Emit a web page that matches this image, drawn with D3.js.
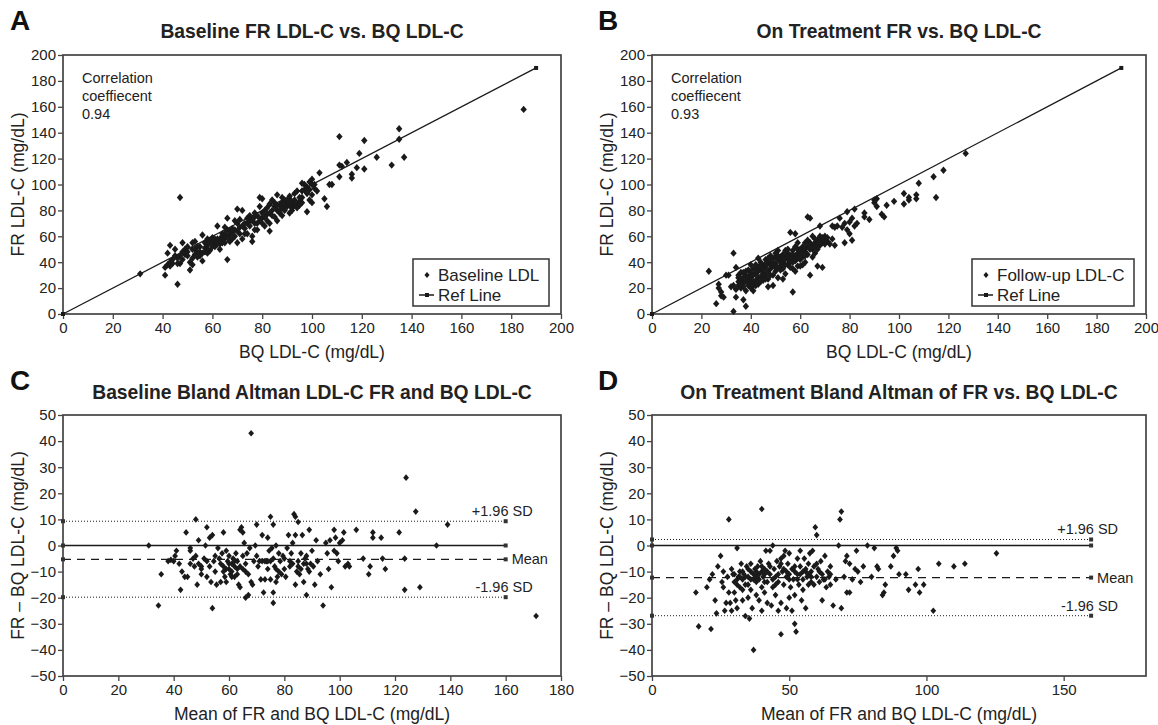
<!DOCTYPE html>
<html>
<head>
<meta charset="utf-8">
<script src="https://cdn.jsdelivr.net/npm/d3@7"></script>
<style>
body{margin:0;background:#fff;}
text{font-family:"Liberation Sans",Arial,sans-serif;}
</style>
</head>
<body>
<script>
const W = 1158, H = 725;

// panel A: baseline FR vs BQ LDL-C  [BQ, FR]
const baselineLDL = [[31,31],[47,90],[46,23],[41,30],[41,36],[42,38],[43,40],[42,47],[43,53],[44,39],[45,45],[47,45],[48,48],[48,55],[47,39],[46,39],[49,50],[50,52],[50,45],[51,34],[51,40],[52,43],[52,55],[53,56],[53,50],[54,48],[55,45],[55,52],[56,41],[56,61],[57,48],[57,55],[58,47],[58,53],[59,49],[60,57],[60,59],[61,55],[61,52],[62,68],[62,56],[63,54],[63,58],[64,60],[64,57],[65,55],[65,62],[66,42],[66,74],[66,65],[67,61],[67,57],[68,63],[69,65],[70,55],[70,81],[70,70],[71,67],[72,80],[72,58],[73,66],[74,70],[74,62],[75,72],[75,68],[76,56],[76,60],[76,74],[77,75],[77,70],[78,76],[78,65],[79,90],[79,72],[80,74],[80,89],[81,68],[81,80],[82,72],[82,77],[83,64],[83,85],[84,88],[84,80],[85,83],[85,75],[86,92],[86,80],[87,84],[87,78],[88,86],[88,82],[89,88],[89,80],[90,85],[90,83],[91,89],[91,78],[92,86],[92,82],[93,93],[93,84],[94,85],[95,87],[95,84],[96,90],[96,101],[97,96],[98,79],[98,93],[99,102],[99,88],[100,100],[100,92],[100,86],[101,97],[102,95],[103,109],[105,89],[106,83],[107,100],[108,100],[111,137],[111,106],[111,115],[112,114],[114,117],[116,108],[116,105],[118,113],[119,124],[121,134],[121,112],[126,121],[132,115],[135,143],[135,135],[137,121],[185,158],
  [58,58],[59,56],[60,54],[60,52],[61,58],[62,54],[62,58],[63,56],[64,55],[64,62],[65,58],[66,60],[67,64],[68,58],[68,66],[69,60],[70,64],[71,62],[72,68],[73,70],[74,74],[75,76],[76,72],[77,78],[78,70],[79,74],[80,70],[80,78],[81,75],[82,82],[83,78],[84,76],[85,86],[86,84],[87,80],[88,90],[89,84],[90,87],[91,84],[92,80],[93,88],[94,82],[95,90],[96,86],[97,100],[98,98],[99,96],[100,104],[101,100],[45,50],[46,43],[48,42],[49,46],[50,48],[52,50],[53,46],[54,52],[55,48],[56,47],[57,51],[58,50],[59,57],[52,38],[44,42],[43,37],[54,44],[63,50],[65,67],[67,56],[69,72],[71,73],[73,62],[77,65],[79,83],[83,70],[86,72],[88,76],[91,91],[94,95],[96,95]];

// panel B: on-treatment FR vs BQ LDL-C  [BQ, FR]
const followupLDL = [[23,33],[26,8],[27,23],[27,20],[28,17],[28,14],[29,13],[30,30],[31,30],[32,21],[33,2],[33,47],[33,22],[34,19],[34,36],[34,13],[35,25],[35,22],[36,27],[36,20],[36,26],[37,11],[37,28],[37,24],[38,6],[38,18],[38,25],[38,30],[39,22],[39,27],[39,34],[40,20],[40,28],[40,32],[41,18],[41,25],[41,30],[41,35],[42,26],[42,31],[42,38],[43,23],[43,28],[43,33],[43,43],[44,29],[44,35],[44,40],[45,26],[45,32],[45,37],[46,30],[46,36],[46,42],[47,21],[47,27],[47,33],[47,39],[48,35],[48,40],[48,45],[49,22],[49,30],[49,37],[49,43],[50,33],[50,39],[50,47],[51,28],[51,36],[51,42],[51,49],[52,37],[52,44],[53,27],[53,40],[53,46],[54,31],[54,43],[55,38],[55,47],[55,50],[56,40],[56,45],[56,63],[57,17],[57,35],[57,42],[57,49],[58,33],[58,45],[58,52],[58,62],[59,37],[59,47],[59,55],[60,42],[60,50],[61,44],[61,52],[62,40],[62,48],[62,55],[63,46],[63,57],[63,75],[64,30],[64,50],[64,74],[65,44],[65,53],[65,60],[66,47],[66,55],[67,37],[67,50],[67,57],[68,53],[68,60],[68,68],[69,36],[69,55],[70,58],[70,60],[71,56],[72,54],[73,68],[74,53],[74,67],[75,68],[76,74],[77,67],[78,55],[78,70],[79,65],[79,79],[80,71],[80,62],[81,57],[81,74],[82,68],[82,81],[83,70],[86,78],[86,75],[88,73],[90,88],[90,86],[91,83],[91,89],[93,77],[94,75],[95,84],[98,87],[102,93],[102,85],[104,90],[104,88],[107,92],[107,89],[108,101],[114,106],[115,90],[118,111],[127,124],
  [36,23],[37,21],[39,25],[40,24],[42,22],[44,25],[45,28],[46,27],[48,30],[50,36],[52,34],[53,35],[54,38],[55,42],[56,36],[57,40],[58,41],[59,43],[60,45],[61,48],[62,45],[63,52],[64,55],[65,50],[66,52],[67,54],[68,57],[69,59],[70,54],[54,49],[50,44],[47,43],[44,38],[41,22],[35,28],[36,32],[38,33],[40,38],[53,42],[61,38],[60,37],
  [35,30],[37,32],[39,29],[40,30],[42,34],[43,36],[45,34],[46,39],[48,38],[49,40],[51,45],[52,40],[55,45],[57,46],[59,50],[60,48],[62,50],[64,52],[66,58],[68,55],[71,59],[73,58]];

// panel C: baseline Bland-Altman  [mean, difference]
const baselineBA = [[31,0],[34.5,-23],[35.5,-11],[38,-6],[39,-5.5],[40,-6],[40.5,-4],[41,-2],[42,-7],[42.5,-17],[43,-10],[44,-12],[44.5,5],[45,-12],[46,-2],[46,-1],[47,-5],[47.5,-8],[48,10],[48.5,-15],[49,2],[49,-7],[50,-9],[50,-11],[51,-5],[51.5,0],[52,7],[52,-12],[53,3],[53,-8],[53.5,-14],[54,-24],[54,4],[54.5,-6],[55,-10],[55.5,-15],[56,-1],[56.5,-5],[57,-14],[57.5,-3],[58,5],[58,-8],[58.5,-12],[59,-14],[59,-2],[59.5,-6],[60,-9],[60,-4],[60.5,-11],[61,-7],[61,-10],[61.5,-5],[62,-8],[62,-12],[62.5,-3],[63,-9],[63,-6],[63.5,-15],[64,6],[64,-16],[64.5,7],[65,-4],[65,5],[65.5,1],[66,-20],[66,-7],[66.5,-3],[67,-19],[67,-11],[67.5,-1],[68,-14],[68,43],[68.5,-15],[69,-6],[69.5,0],[70,8],[70,-4],[70.5,-8],[71,-6],[71.5,-13],[72,4],[72,-6],[72.5,-18],[73,-13],[73.5,-6],[74,3],[74,-9],[74.5,-2],[75,-13],[75,11],[75.5,-1],[76,8],[76,-18],[76,-22],[76.5,-8],[77,-14],[77,0],[77.5,-12],[78,-10],[78,-3],[78.5,-6],[79,-11],[79.5,-4],[80,-5],[80.5,-12],[81,-1],[81.5,4],[82,-8],[82.5,-3],[83,1],[83,-7],[83.5,12],[84,11],[84,4],[84,-15],[84.5,-10],[85,9],[85,-6],[85.5,-11],[86,-3],[86.5,4],[87,-7],[87,-14],[87.5,-5],[88,-19],[88,-4],[88.5,-9],[89,6],[89,-10],[89.5,-7],[90,-2],[90.5,-8],[91,-15],[91.5,2],[92,-6],[93,-11],[94,-23],[95,1],[95.5,-3],[96,-9],[96.5,2],[97,-16],[98,6],[98,-2],[98.5,3],[99,-3],[99.5,-6],[100,1],[101,2],[101.5,5],[102,-8],[103,-7],[103.5,-8],[106,6],[108.5,-5],[110.5,-11],[111,-8],[112,5],[112,3],[115,3],[115.5,-5],[116.5,-9],[121.5,5],[123.5,-5],[123.5,-17],[124,26],[127.5,13],[129,-16],[135,0],[139,8],[171,-27],
  [57,-7],[58,-10],[59,-9],[60,-7],[61,-12],[62,-6],[63,-11],[64,-8],[65,-9],[66,-10],[73,-6],[74,-6],[75,-6],[76,-5],[77,-9],[80,-9],[82,-6],[85,-8],[86,-9],[88,-7],[52,-6],[50,-8],[48,-4],[55,-4],[46,-7]];

// panel D: on-treatment Bland-Altman  [mean, difference]
const followupBA = [[16,-18],[17,-31],[20,-16],[21,-13],[21.5,-32],[22,-11],[23,-21],[23.5,-26],[24,-8],[25,-4],[25.5,-14],[26,-16],[26,-10],[26.5,-25],[27,-22],[27.5,-12],[28,10],[28,-18],[28.5,-22],[29,-25],[29.5,-11],[30,-14],[30,-18],[30.5,-21],[31,-24],[31,-1],[31.5,-12],[32,-10],[32,-16],[32.5,-7],[33,-13],[33,-21],[33.5,-11],[34,-15],[34,-27],[34.5,-8],[35,-20],[35,-12],[35.5,-28],[36,-10],[36,-17],[36.5,-24],[37,-13],[37,-40],[37.5,-9],[38,-19],[38,-14],[38.5,-8],[39,-21],[39,-11],[39.5,-6],[40,-25],[40,-16],[40,14],[40.5,-12],[41,-9],[41,-18],[41.5,-2],[42,-14],[42,-22],[42.5,-7],[43,-11],[43,-2],[43.5,-23],[44,0],[44,-16],[44.5,-9],[45,-12],[45,-19],[45.5,-6],[46,-25],[46,-14],[46.5,-8],[47,-34],[47,-22],[47.5,-10],[48,-4],[48,-15],[48.5,-2],[49,-24],[49,-12],[49.5,-7],[50,-20],[50,-3],[50.5,-16],[51,-9],[51,-25],[51.5,-13],[52,-19],[52,-30],[52.5,-33],[53,-11],[53,-5],[53.5,-15],[54,-2],[54,-8],[54.5,-21],[55,-13],[55,-17],[55.5,-5],[56,-9],[56,-24],[56.5,-12],[57,-7],[57,-15],[57.5,-3],[58,-10],[58,-14],[58.5,-2],[59,-8],[59,-15],[59.5,7],[60,4],[60,-12],[60.5,-9],[61,-14],[61.5,-6],[62,-11],[62,-21],[62.5,-13],[63,-4],[63.5,-16],[64,-10],[64.5,-12],[65,-15],[65,-11],[66,-23],[67,-13],[68,0],[68.5,10],[69,13],[69,-24],[70,-12],[70.5,-6],[71,-18],[71,-4],[72,-7],[72,-18],[73,-13],[74,-9],[74.5,-2],[75,-10],[76,-14],[77,-8],[78.5,0],[80,-12],[81,-1],[82,-8],[82.5,-9],[84,-19],[84.5,-18],[85,-15],[87,-8],[88,-4],[89,-1],[89.5,-2],[90,-11],[92.5,-11],[93.5,-17],[96,-15],[97,-9],[97.5,-18],[99,-15],[102.5,-25],[104.5,-7],[110,-8],[114,-7],[125.5,-3],
  [30,-11],[31,-13],[32,-12],[33,-10],[34,-12],[35,-9],[36,-13],[37,-11],[38,-10],[39,-13],[40,-8],[41,-11],[42,-10],[44,-13],[46,-11],[47,-7],[48,-9],[50,-11],[52,-10],[54,-11],[56,-10],[58,-12],
  [29,-9],[31,-15],[33,-17],[35,-15],[36,-7],[38,-12],[40,-10],[41,-14],[43,-8],[45,-15],[47,-5],[49,-10],[50,-13],[52,-8],[53,-13],[55,-10],[57,-11],[60,-7],[61,-10],[63,-13],[65,-8]];

// reference line (identity) end points for A and B
const refLine = [[0,0],[190,190]];
// Bland-Altman limits: [upper +1.96 SD, mean, lower -1.96 SD]
const baselineLimits = [9.3, -5.3, -19.8];
const followupLimits = [2.3, -12.3, -26.9];
const limitEnd = 160;

const ticks200 = [0,20,40,60,80,100,120,140,160,180,200];
const ticks180 = [0,20,40,60,80,100,120,140,160,180];
const ticks150 = [0,50,100,150];
const ticksDiff = [50,40,30,20,10,0,-10,-20,-30,-40,-50];

const ink = "#1a1a1a";
const diamond = "M0,-3.7L3.2,0L0,3.7L-3.2,0Z";

const svg = d3.select("body").append("svg")
  .attr("width", W).attr("height", H);

function frame(g, box, x, y, xt, yt) {
  g.append("g")
    .attr("transform", `translate(0,${box.b})`)
    .call(d3.axisBottom(x).tickValues(xt).tickSize(5).tickPadding(3))
    .call(a => a.select(".domain").remove());
  g.append("g")
    .attr("transform", `translate(${box.l},0)`)
    .call(d3.axisLeft(y).tickValues(yt).tickSize(5).tickPadding(2))
    .call(a => a.select(".domain").remove());
  g.selectAll(".tick text").attr("font-size", 15).attr("fill", "#222")
    .attr("font-family", "'Liberation Sans', Arial, sans-serif");
  g.selectAll(".tick line").attr("stroke", "#444").attr("stroke-width", 1.3);
  g.append("rect")
    .attr("x", box.l).attr("y", box.t)
    .attr("width", box.r - box.l).attr("height", box.b - box.t)
    .attr("fill", "none").attr("stroke", "#444").attr("stroke-width", 1.7);
}

function labels(g, box, letter, lx, title, ty, xlab, ylab) {
  const cx = (box.l + box.r) / 2;
  g.append("text").attr("x", lx).attr("y", box.t - 25)
    .attr("font-size", 28).attr("font-weight", "bold").attr("fill", "#111")
    .text(letter);
  g.append("text").attr("x", cx).attr("y", ty).attr("text-anchor", "middle")
    .attr("font-size", 19.3).attr("font-weight", "bold").attr("fill", "#222")
    .text(title);
  g.append("text").attr("x", cx).attr("y", box.b + 44).attr("text-anchor", "middle")
    .attr("font-size", 17.5).attr("fill", "#222").text(xlab);
  g.append("text")
    .attr("transform", `translate(${box.l - 39},${(box.t + box.b) / 2}) rotate(-90)`)
    .attr("text-anchor", "middle").attr("font-size", 17.5).attr("fill", "#222")
    .text(ylab);
}

function scatterPanel(box, pts, letter, lx, title, series, corr, legendBox) {
  const g = svg.append("g");
  const x = d3.scaleLinear().domain([0, 200]).range([box.l, box.r]);
  const y = d3.scaleLinear().domain([0, 200]).range([box.b, box.t]);
  frame(g, box, x, y, ticks200, ticks200);
  labels(g, box, letter, lx, title, box.t - 17, "BQ LDL-C (mg/dL)", "FR LDL-C (mg/dL)");

  g.append("path").datum(refLine)
    .attr("d", d3.line().x(d => x(d[0])).y(d => y(d[1])))
    .attr("stroke", ink).attr("stroke-width", 1.3).attr("fill", "none");
  g.selectAll(".ref").data(refLine).join("rect")
    .attr("x", d => x(d[0]) - 2).attr("y", d => y(d[1]) - 2)
    .attr("width", 4).attr("height", 4).attr("fill", ink);

  g.selectAll(".pt").data(pts).join("path")
    .attr("d", diamond)
    .attr("transform", d => `translate(${x(d[0])},${y(d[1])})`)
    .attr("fill", ink);

  const ct = g.append("text").attr("font-size", 14.5).attr("fill", "#222");
  ["Correlation", "coeffiecent", corr].forEach((s, i) =>
    ct.append("tspan").attr("x", box.l + 19).attr("y", box.t + 28 + i * 18).text(s));

  const lg = g.append("g").attr("transform", `translate(${legendBox.x},${legendBox.y})`);
  lg.append("rect").attr("width", legendBox.w).attr("height", 47)
    .attr("fill", "#fff").attr("stroke", "#333").attr("stroke-width", 1.5);
  lg.append("path").attr("d", diamond).attr("transform", "translate(14,16) scale(0.8)").attr("fill", ink);
  lg.append("text").attr("x", 25).attr("y", 22).attr("font-size", 17).attr("fill", "#222").text(series);
  lg.append("line").attr("x1", 6).attr("x2", 21).attr("y1", 36).attr("y2", 36)
    .attr("stroke", ink).attr("stroke-width", 1.5);
  lg.append("rect").attr("x", 12).attr("y", 34).attr("width", 4).attr("height", 4).attr("fill", ink);
  lg.append("text").attr("x", 25).attr("y", 42).attr("font-size", 17).attr("fill", "#222").text("Ref Line");
}

function baPanel(box, pts, letter, lx, title, xt, limits) {
  const g = svg.append("g");
  const x = d3.scaleLinear().domain([0, 180]).range([box.l, box.r]);
  const y = d3.scaleLinear().domain([-50, 50]).range([box.b, box.t]);
  frame(g, box, x, y, xt, ticksDiff);
  labels(g, box, letter, lx, title, box.t - 16, "Mean of FR and BQ LDL-C (mg/dL)", "FR \u2013 BQ LDL-C (mg/dL)");

  const lines = [
    {v: 0, dash: null, w: 1.4},
    {v: limits[1], dash: "8,6", w: 1.2},
    {v: limits[0], dash: "1,2", w: 1},
    {v: limits[2], dash: "1,2", w: 1}
  ];
  lines.forEach(L => {
    g.append("line").attr("x1", x(0)).attr("x2", x(limitEnd))
      .attr("y1", y(L.v)).attr("y2", y(L.v))
      .attr("stroke", ink).attr("stroke-width", L.w)
      .attr("stroke-dasharray", L.dash);
    [0, limitEnd].forEach(e =>
      g.append("rect").attr("x", x(e) - 2).attr("y", y(L.v) - 2)
        .attr("width", 4).attr("height", 4).attr("fill", "#333"));
  });

  g.selectAll(".pt").data(pts).join("path")
    .attr("d", diamond)
    .attr("transform", d => `translate(${x(d[0])},${y(d[1])}) scale(0.9)`)
    .attr("fill", ink);

  const tx = x(limitEnd) + 27;
  g.append("text").attr("x", tx).attr("y", y(limits[0]) - 5).attr("text-anchor", "end")
    .attr("font-size", 14.5).attr("fill", "#222").text("+1.96 SD");
  g.append("text").attr("x", x(limitEnd) + 6).attr("y", y(limits[1]) + 5)
    .attr("font-size", 14.5).attr("fill", "#222").text("Mean");
  g.append("text").attr("x", tx).attr("y", y(limits[2]) - 5).attr("text-anchor", "end")
    .attr("font-size", 14.5).attr("fill", "#222").text("-1.96 SD");
}

scatterPanel({l: 63, r: 561, t: 55, b: 314}, baselineLDL, "A", 10,
  "Baseline FR LDL-C vs. BQ LDL-C", "Baseline LDL", "0.94", {x: 413, y: 259, w: 136});
scatterPanel({l: 652, r: 1146, t: 55, b: 314}, followupLDL, "B", 598,
  "On Treatment FR vs. BQ LDL-C", "Follow-up LDL-C", "0.93", {x: 972, y: 259, w: 162});
baPanel({l: 63, r: 561, t: 415, b: 676}, baselineBA, "C", 10,
  "Baseline Bland Altman LDL-C FR and BQ LDL-C", ticks180, baselineLimits);
baPanel({l: 652, r: 1146, t: 415, b: 676}, followupBA, "D", 598,
  "On Treatment Bland Altman of FR vs. BQ LDL-C", ticks150, followupLimits);
</script>
</body>
</html>
